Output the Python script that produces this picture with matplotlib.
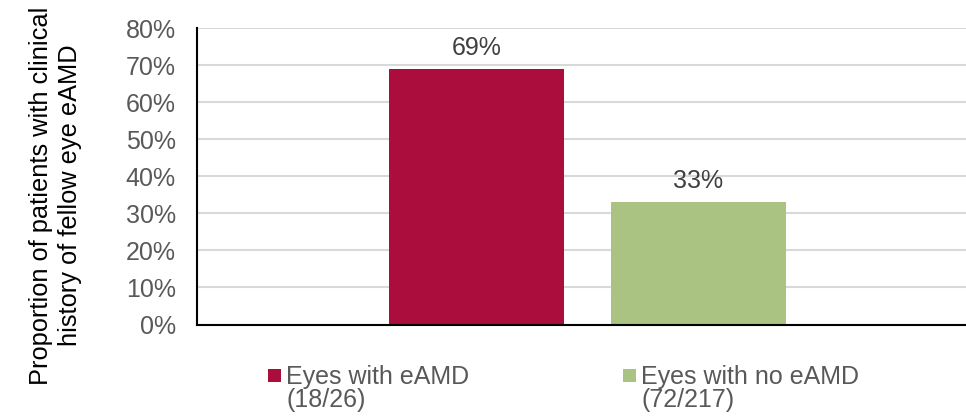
import matplotlib
matplotlib.use("Agg")
import matplotlib.pyplot as plt
from matplotlib.ticker import FuncFormatter
from matplotlib.patches import Rectangle
from matplotlib.legend_handler import HandlerPatch

plt.rcParams['font.family'] = ['Liberation Sans', 'DejaVu Sans']

categories = ["Eyes with eAMD\n(18/26)", "Eyes with no eAMD\n(72/217)"]
values = [69, 33]
colors = ["#AB0D3C", "#AAC282"]
yticks = [0, 10, 20, 30, 40, 50, 60, 70, 80]
ylabel = "Proportion of patients with clinical\nhistory of fellow eye eAMD"

fig = plt.figure(figsize=(9.66, 4.19), dpi=100)
ax = fig.add_axes([0.2044, 0.2255, 0.7956, 0.707])

positions = list(range(len(values)))
bars = ax.bar(positions, values, width=0.787, color=colors, label=categories, zorder=3)

for x, v in zip(positions, values):
    ax.annotate(f"{v}%", xy=(x, v), xytext=(0, 10), textcoords="offset points",
                ha="center", va="baseline", fontsize=18, color="#404040")

ax.set_xlim(-1.256, 2.206)
ax.set_ylim(0, 80)
ax.set_yticks(yticks)
ax.yaxis.set_major_formatter(FuncFormatter(lambda v, p: f"{v:.0f}%"))
ax.tick_params(axis='y', length=0, labelsize=18, labelcolor="#595959", pad=15.5)
ax.set_xticks([])
ax.grid(axis='y', color="#D9D9D9", linewidth=1.5, zorder=0)
for s in ["top", "right"]:
    ax.spines[s].set_visible(False)
for s in ["left", "bottom"]:
    ax.spines[s].set_color("black")
    ax.spines[s].set_linewidth(1.5)
    ax.spines[s].set_zorder(4)

fig.text(0.0575, 0.5334, ylabel, rotation=90, ha="center", va="center",
         multialignment="center", fontsize=18.3, color="black", linespacing=1.3)


def top_line_square(legend, orig_handle, xdescent, ydescent, width, height, fontsize):
    # square aligned with the first line of a two-line label
    return Rectangle(xy=(-xdescent, 11.4), width=width, height=9.65)


leg = fig.legend(handles=list(bars), labels=categories, loc="upper left",
                 bbox_to_anchor=(0.2777, 0.1286), ncol=2, frameon=False,
                 fontsize=18, handlelength=0.5, handleheight=0.53,
                 handletextpad=0.22, columnspacing=6.16, borderaxespad=0,
                 borderpad=0, labelcolor="#595959",
                 handler_map={Rectangle: HandlerPatch(patch_func=top_line_square)})
for t in leg.get_texts():
    t.set_linespacing(0.937)

fig.savefig("out.png", dpi=100)
